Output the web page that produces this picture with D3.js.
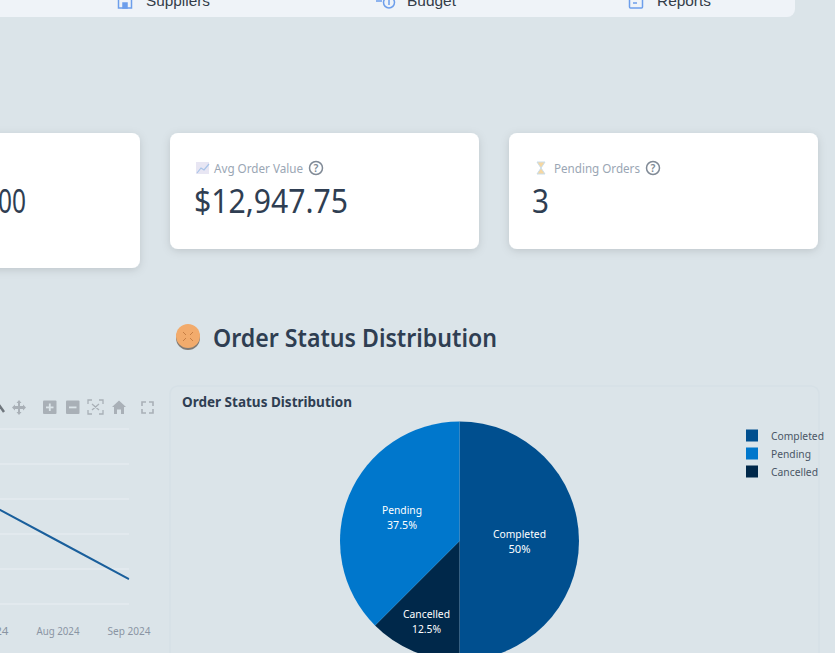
<!DOCTYPE html>
<html><head><meta charset="utf-8">
<script src="https://d3js.org/d3.v7.min.js"></script>
<style>
html,body{margin:0;padding:0;background:#dbe4e9;overflow:hidden}
svg{display:block}
text{font-family:"Noto Sans",sans-serif}
</style></head><body>
<svg id="c" width="835" height="653"></svg>
<script>
const navLabels=["Suppliers","Budget","Reports"];
const cardLabels=["Avg Order Value","Pending Orders"];
const cardValues=["$12,947.75","3"];
const clippedValue="00";
const sectionTitle="Order Status Distribution";
const statusNames=["Completed","Pending","Cancelled"];
const statusShares=[50,37.5,12.5];
const statusColors=["#004f8f","#0077cc","#00284a"];
const pieOrder=["Completed","Cancelled","Pending"];
const trendMonths=["2024-07-01","2024-08-01","2024-09-01"];
const trendValues=[14430,9000,3570];
const gridValues=[0,5000,10000,15000,20000,25000];
const monthLabels=["Jul 2024","Aug 2024","Sep 2024"];

const svg=d3.select("#c");
const BG="#dbe4e9";
const defs=svg.append("defs");
const f=defs.append("filter").attr("id","sh").attr("x","-10%").attr("y","-10%").attr("width","120%").attr("height","130%");
f.append("feDropShadow").attr("dx",0).attr("dy",2).attr("stdDeviation",4).attr("flood-color","#000").attr("flood-opacity",.13);
defs.append("clipPath").attr("id","lineClip").append("rect").attr("x",-20).attr("y",420).attr("width",149.5).attr("height",200);

// nav bar
svg.append("rect").attr("x",-20).attr("y",-20).attr("width",815).attr("height",37).attr("rx",8).attr("fill","#eff3f8");
const navX=[146,407,657], navW=[64,49,54];
svg.selectAll(".nav").data(navLabels).join("text").attr("x",(d,i)=>navX[i]).attr("y",6)
  .attr("textLength",(d,i)=>navW[i]).attr("lengthAdjust","spacingAndGlyphs")
  .attr("font-size",14.5).style("font-family","'Liberation Sans',sans-serif").attr("fill","#333c48").text(d=>d);
// nav icons
const ic=svg.append("g").attr("fill","none").attr("stroke","#6d9eeb").attr("stroke-width",1.5);
ic.append("rect").attr("x",118.5).attr("y",-3).attr("width",13).attr("height",11);
ic.append("rect").attr("x",123).attr("y",3).attr("width",4).attr("height",5).attr("fill","#6d9eeb");
ic.append("circle").attr("cx",389).attr("cy",2.5).attr("r",5.5);
ic.append("path").attr("d","M376 1H382M389 0V5");
ic.append("rect").attr("x",629.5).attr("y",-4).attr("width",13).attr("height",12).attr("rx",1);
ic.append("path").attr("d","M633 3H637");

// cards
const cards=[{x:-30,y:133,w:170,h:135},{x:170,y:133,w:309,h:116},{x:509,y:133,w:309,h:116}];
svg.selectAll(".card").data(cards).join("rect").attr("x",d=>d.x).attr("y",d=>d.y).attr("width",d=>d.w).attr("height",d=>d.h)
  .attr("rx",8).attr("fill","#fff").attr("filter","url(#sh)");
svg.append("text").attr("x",-2).attr("y",213).attr("font-size",32).attr("fill","#2f3e52").attr("textLength",28).attr("lengthAdjust","spacingAndGlyphs").text(clippedValue);

const labelX=[214,554], labelW=[89,86], helpX=[316,653], valX=[194,532], valW=[154,17];
svg.selectAll(".lab").data(cardLabels).join("text").attr("x",(d,i)=>labelX[i]).attr("y",172.5).attr("font-size",12.5)
  .attr("fill","#9aa6b4").attr("textLength",(d,i)=>labelW[i]).attr("lengthAdjust","spacingAndGlyphs").text(d=>d);
svg.selectAll(".val").data(cardValues).join("text").attr("x",(d,i)=>valX[i]).attr("y",213).attr("font-size",32)
  .attr("fill","#2f3e52").attr("textLength",(d,i)=>valW[i]).attr("lengthAdjust","spacingAndGlyphs").text(d=>d);
helpX.forEach(x=>{
  svg.append("circle").attr("cx",x).attr("cy",168).attr("r",6.5).attr("fill","none").attr("stroke","#808a96").attr("stroke-width",1.5);
  svg.append("text").attr("x",x).attr("y",172).attr("text-anchor","middle").attr("font-size",10.5).attr("font-weight",600).attr("fill","#808a96").text("?");
});
// card icons
const g1=svg.append("g");
g1.append("rect").attr("x",196).attr("y",162).attr("width",13).attr("height",12).attr("fill","#e8e6f3");
g1.append("path").attr("d","M197 173L201 168L204 170L209 164").attr("fill","none").attr("stroke","#a8c4e8").attr("stroke-width",1.2);
const g2=svg.append("g");
g2.append("path").attr("d","M537 162H545L541 168L545 174H537L541 168Z").attr("fill","#f7d7a0").attr("stroke","#c9ddea").attr("stroke-width",1);

// section title
const pie=svg.append("g");
pie.append("circle").attr("cx",188).attr("cy",338).attr("r",12).attr("fill","#807a74");
pie.append("circle").attr("cx",188).attr("cy",336).attr("r",12).attr("fill","#f2ab6c");
pie.append("path").attr("d","M183 332L186 335M193 332L190 335M183 341L186 338M193 341L190 338").attr("stroke","#c77f45").attr("stroke-width",1).attr("fill","none");
svg.append("text").attr("x",213).attr("y",346.5).attr("font-size",25).attr("font-weight",600).attr("fill","#2f3e52")
  .attr("textLength",284).attr("lengthAdjust","spacingAndGlyphs").text(sectionTitle);

// panel
svg.append("rect").attr("x",170).attr("y",386).attr("width",649).attr("height",300).attr("rx",8).attr("fill",BG).attr("stroke","#d6e0e6").attr("stroke-width",1.5);
svg.append("text").attr("x",182).attr("y",406.5).attr("font-size",14).attr("font-weight",700).attr("fill","#2f3e52")
  .attr("textLength",170).attr("lengthAdjust","spacingAndGlyphs").text(sectionTitle);

// line chart (left, cropped)
const months=trendMonths.map(d=>d3.utcParse("%Y-%m-%d")(d));
const x=d3.scaleUtc().domain([months[1],months[2]]).range([58,129]);
const y=d3.scaleLinear().domain([0,25000]).range([604,429]);
const lg=svg.append("g");
lg.selectAll(".grid").data(gridValues).join("line").attr("x1",-20).attr("x2",129).attr("y1",d=>y(d)).attr("y2",d=>y(d)).attr("stroke","#e9eef3").attr("stroke-width",1);
lg.append("path").datum(months.map((m,i)=>[m,trendValues[i]])).attr("clip-path","url(#lineClip)")
  .attr("d",d3.line().x(d=>x(d[0])).y(d=>y(d[1]))).attr("fill","none").attr("stroke","#1a5f9c").attr("stroke-width",2);
lg.selectAll(".mon").data(months).join("text").attr("x",d=>x(d)).attr("y",635).attr("text-anchor","middle").attr("font-size",10.5).attr("fill","#8a94a3")
  .attr("textLength",43).attr("lengthAdjust","spacingAndGlyphs").text((d,i)=>monthLabels[i]);

// modebar
const mb=svg.append("g").attr("fill","#a9b0b7");
[43,66].forEach((xx,i)=>{
  mb.append("rect").attr("x",xx).attr("y",400.5).attr("width",13.5).attr("height",13.5).attr("rx",1);
  mb.append("rect").attr("x",xx+3).attr("y",406.5).attr("width",7.5).attr("height",1.8).attr("fill",BG);
  if(i==0) mb.append("rect").attr("x",xx+5.9).attr("y",403.5).attr("width",1.8).attr("height",7.5).attr("fill",BG);
});
mb.append("path").attr("d","M19 400L21.5 403H20V406H23V404.5L26 407.5L23 410.5V409H20V412H21.5L19 415L16.5 412H18V409H15V410.5L12 407.5L15 404.5V406H18V403H16.5Z");
mb.append("path").attr("d","M112 407L119 400.5L126 407H124V414H121V409.5H117V414H114V407Z");
mb.append("path").attr("d","M-1 405L4 412").attr("fill","none").attr("stroke","#6f767d").attr("stroke-width",2.5);
mb.append("path").attr("d","M88 404V400H92M99 400H103V404M103 410V414H99M92 414H88V410M92 404L99 410M99 404L92 410").attr("fill","none").attr("stroke","#a9b0b7").attr("stroke-width",1.3);
mb.append("path").attr("d","M142 406V402H146M149 402H153V406M153 409V413H149M146 413H142V409").attr("fill","none").attr("stroke","#a9b0b7").attr("stroke-width",1.6);

// pie chart: slices run clockwise in pieOrder
const pieRows=pieOrder.map(n=>({name:n,share:statusShares[statusNames.indexOf(n)],color:statusColors[statusNames.indexOf(n)]}));
const pg=svg.append("g").attr("transform","translate(459.5,541)");
const arcs=d3.pie().sort(null).value(d=>d.share)(pieRows);
const arc=d3.arc().innerRadius(0).outerRadius(119.5);
pg.selectAll("path").data(arcs).join("path").attr("d",arc).attr("fill",d=>d.data.color);
const lblX=[519.5,402,426.5], lblY=[538,514,618], lblW=[53,40,47], pctW=[22,30,29];
const labels=svg.append("g").attr("fill","#fff").attr("text-anchor","middle").attr("font-size",11);
statusNames.forEach((n,i)=>{
  labels.append("text").attr("x",lblX[i]).attr("y",lblY[i]).attr("textLength",lblW[i]).attr("lengthAdjust","spacingAndGlyphs").text(n);
  labels.append("text").attr("x",lblX[i]).attr("y",lblY[i]+15).attr("textLength",pctW[i]).attr("lengthAdjust","spacingAndGlyphs").text(statusShares[i]+"%");
});
// legend
const lgY=[435.5,453.5,471.5], lgW=[53,40,47];
const leg=svg.append("g");
leg.selectAll("rect").data(statusNames).join("rect").attr("x",746).attr("y",(d,i)=>lgY[i]-6).attr("width",12).attr("height",12).attr("fill",(d,i)=>statusColors[i]);
leg.selectAll("text").data(statusNames).join("text").attr("x",771).attr("y",(d,i)=>lgY[i]+4).attr("font-size",11).attr("fill","#4a5666")
  .attr("textLength",(d,i)=>lgW[i]).attr("lengthAdjust","spacingAndGlyphs").text(d=>d);
</script></body></html>
